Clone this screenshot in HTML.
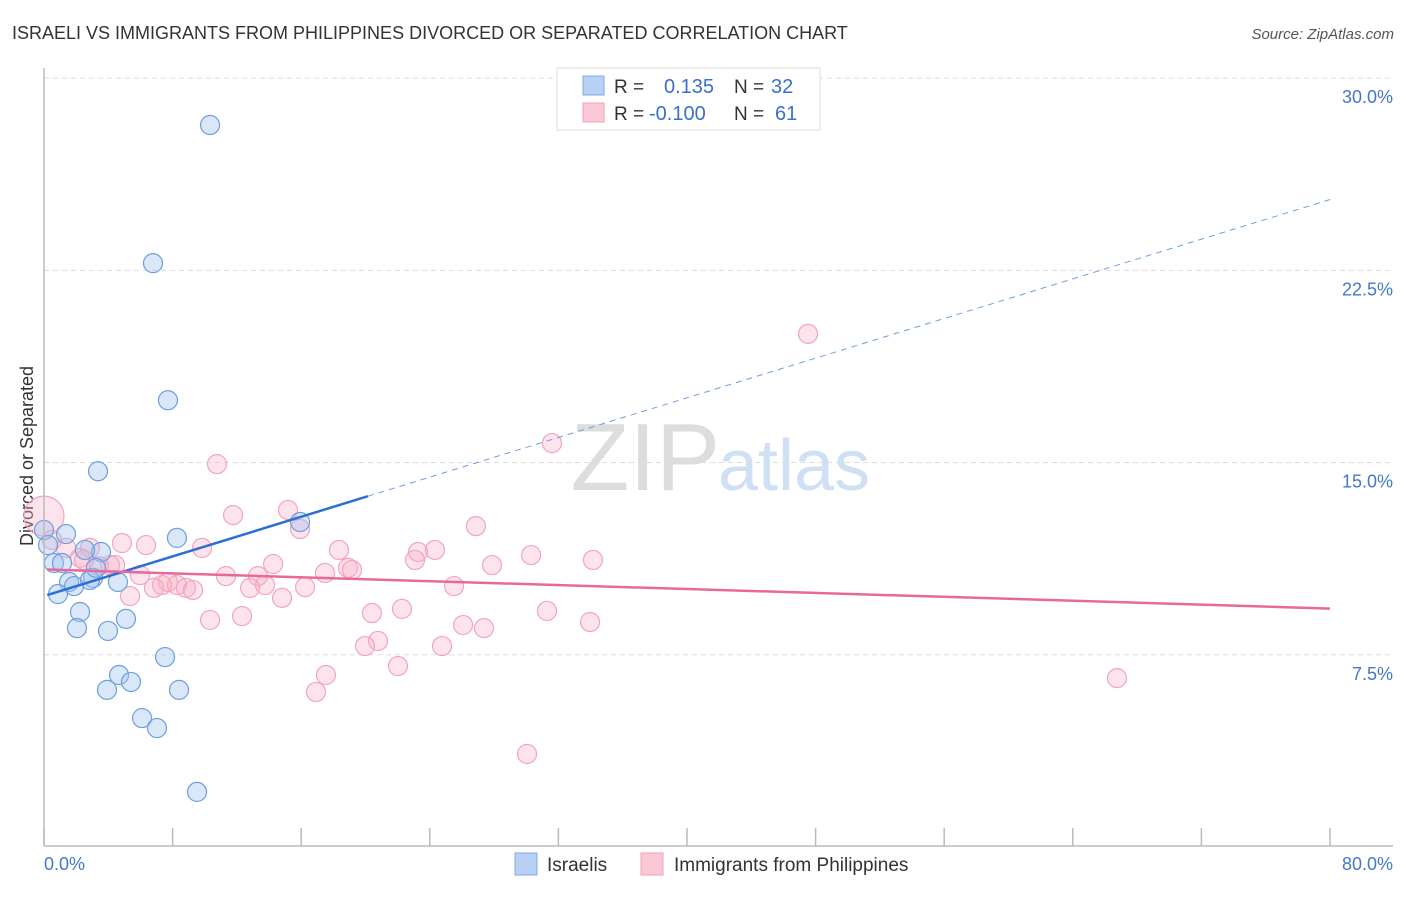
<!DOCTYPE html>
<html><head><meta charset="utf-8"><style>
body{margin:0;background:#fff;font-family:"Liberation Sans",sans-serif}
svg text{font-family:"Liberation Sans",sans-serif}
</style></head><body>
<svg id="c" width="1406" height="892" xmlns="http://www.w3.org/2000/svg">
<text x="12" y="39" font-size="18" fill="#333">ISRAELI VS IMMIGRANTS FROM PHILIPPINES DIVORCED OR SEPARATED CORRELATION CHART</text>
<text x="1394" y="39" font-size="15" fill="#555" font-style="italic" text-anchor="end">Source: ZipAtlas.com</text>
<text x="33" y="456" font-size="18" fill="#333" text-anchor="middle" transform="rotate(-90 33 456)">Divorced or Separated</text>
<text x="720" y="490" font-size="96" fill="#ddd" text-anchor="end" font-family="Liberation Serif">ZIP</text>
<text x="718" y="490" font-size="72" fill="#cfe0f5">atlas</text>
<g id="grid"></g><g id="pts"></g><g id="lines"></g>
<line x1="44" y1="68" x2="44" y2="846" stroke="#bbb" stroke-width="1.5"/>
<line x1="44" y1="846" x2="1393" y2="846" stroke="#bbb" stroke-width="1.5"/>
<text x="44" y="870" font-size="18" fill="#4477cc">0.0%</text>
<text x="1393" y="870" font-size="18" fill="#4477cc" text-anchor="end">80.0%</text>
<g>
<rect x="557" y="68" width="263" height="62" fill="#fff" stroke="#ddd"/>
<rect x="583" y="76" width="21" height="19" fill="#b8d0f4" stroke="#7fa8e0"/>
<rect x="583" y="103" width="21" height="19" fill="#fbc8d6" stroke="#f0a0b8"/>
<text x="614" y="93" font-size="19" fill="#333">R =</text><text x="664" y="93" font-size="20" fill="#3a6fd0">0.135</text>
<text x="734" y="93" font-size="19" fill="#333">N =</text><text x="771" y="93" font-size="20" fill="#3a6fd0">32</text>
<text x="614" y="120" font-size="19" fill="#333">R =</text><text x="649" y="120" font-size="20" fill="#3a6fd0">-0.100</text>
<text x="734" y="120" font-size="19" fill="#333">N =</text><text x="775" y="120" font-size="20" fill="#3a6fd0">61</text>
</g>
<g><rect x="515" y="853" width="22" height="22" fill="#b8d0f4" stroke="#7fa8e0"/><text x="547" y="871" font-size="19" fill="#333">Israelis</text></g>
<g><rect x="641" y="853" width="22" height="22" fill="#fbc8d6" stroke="#f0a0b8"/><text x="674" y="871" font-size="19" fill="#333">Immigrants from Philippines</text></g>
</svg>
<script>
const yTicks=[7.5,15,22.5,30];
const yTickLabels=["7.5%","15.0%","22.5%","30.0%"];
const xTicks=[0,8,16,24,32,40,48,56,64,72,80];
const israeliX=[10.33,6.78,7.71,3.36,1.37,0.62,1.12,3.55,2.55,8.27,15.93,1.56,1.87,3.05,2.86,4.60,0.87,3.23,2.24,2.05,5.10,3.98,7.53,4.67,5.41,3.92,8.40,6.10,7.03,9.52,0,0.25];
const israeliY=[28.17,22.78,17.43,14.66,12.21,11.08,11.08,11.51,11.59,12.06,12.68,10.34,10.18,10.50,10.42,10.34,9.87,10.89,9.17,8.54,8.90,8.43,7.41,6.71,6.44,6.13,6.13,5.03,4.64,2.15,12.37,11.78];
const philX=[0,47.53,31.60,10.76,15.18,11.76,26.87,15.93,4.85,6.35,9.83,2.86,1.37,18.35,24.32,23.27,30.30,34.15,23.08,14.25,18.91,19.16,27.87,17.48,4.11,4.42,3.42,2.24,5.97,11.32,13.31,7.71,7.34,8.27,8.83,9.27,6.84,12.82,13.75,16.24,25.51,5.35,14.81,31.29,22.27,20.40,12.32,10.33,26.07,27.37,33.97,20.78,19.97,24.76,22.02,17.54,16.92,66.75,30.05,0.50,2.49];
const philY=[12.91,20.02,15.76,14.94,13.15,12.95,12.52,12.41,11.86,11.78,11.67,11.67,11.67,11.59,11.59,11.51,11.39,11.20,11.20,11.04,10.89,10.81,11.00,10.69,11.00,11.00,10.96,11.28,10.61,10.57,10.57,10.34,10.22,10.22,10.11,10.03,10.11,10.11,10.22,10.14,10.18,9.79,9.72,9.21,9.29,9.13,9.01,8.86,8.66,8.54,8.78,8.04,7.84,7.84,7.06,6.71,6.05,6.59,3.63,11.98,11.20];
const israeliTrend=[9.79,0.1934];
const philTrend=[10.83,-0.0191];
const X=v=>44+v*16.075, Y=v=>847-v*25.63;
const NS="http://www.w3.org/2000/svg";
function mk(t,a,p){const e=document.createElementNS(NS,t);for(const k in a)e.setAttribute(k,a[k]);p.appendChild(e);return e;}
const grid=document.getElementById('grid');
yTicks.forEach((t,i)=>{
 const l=mk('line',{x1:44,x2:1393,y1:Y(t),y2:Y(t),stroke:'#ddd','stroke-dasharray':'5,4'},grid);
 
 
 const tx=mk('text',{x:1393,y:Y(t)+25,'font-size':18,fill:'#4477cc','text-anchor':'end'},grid);
 tx.textContent=yTickLabels[i];
 
 
});
xTicks.forEach(t=>{
 const l=mk('line',{x1:X(t),x2:X(t),y1:828,y2:846,stroke:'#bbb','stroke-width':1.5},grid);
 
 
});
const pts=document.getElementById('pts');
philX.forEach((x,i)=>{
 const c=mk('circle',{cx:X(x),cy:Y(philY[i]),r:i===0?20:9.5,fill:'rgba(248,175,198,0.35)',stroke:'#f2a5bd','stroke-width':1.2},pts);
 
 
});
israeliX.forEach((x,i)=>{
 const c=mk('circle',{cx:X(x),cy:Y(israeliY[i]),r:9.5,fill:'rgba(160,196,240,0.4)',stroke:'#6d9fe0','stroke-width':1.2},pts);
 
 
});
const lines=document.getElementById('lines');
const bt=x=>israeliTrend[0]+israeliTrend[1]*x, pt=x=>philTrend[0]+philTrend[1]*x;
let a=mk('line',{x1:X(0.2),y1:Y(bt(0.2)),x2:X(20.15),y2:Y(bt(20.15)),stroke:'#2b6fd6','stroke-width':2.5},lines);


a=mk('line',{x1:X(20.15),y1:Y(bt(20.15)),x2:X(80),y2:Y(bt(80)),stroke:'#6d9fe0','stroke-width':1,'stroke-dasharray':'6,5'},lines);


a=mk('line',{x1:X(0.2),y1:Y(pt(0.2)),x2:X(80),y2:Y(pt(80)),stroke:'#e8689a','stroke-width':2.5},lines);


</script>
</body></html>
